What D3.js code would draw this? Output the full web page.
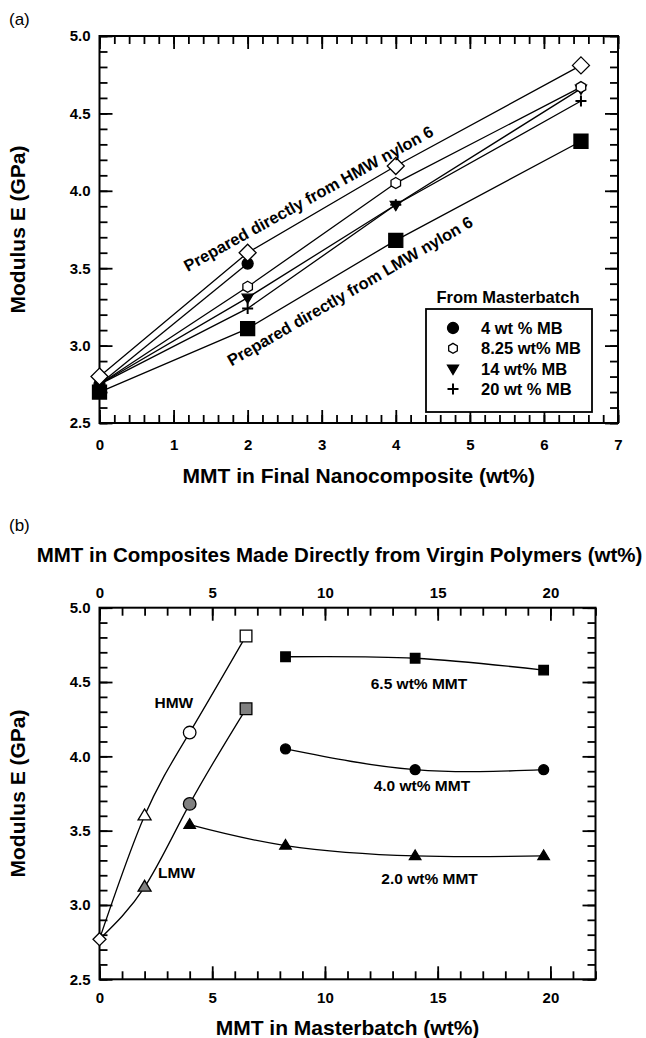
<!DOCTYPE html>
<html>
<head>
<meta charset="utf-8">
<script src="https://cdn.jsdelivr.net/npm/d3@7"></script>
<style>
  html, body { margin: 0; padding: 0; background: #fff; }
  svg { display: block; font-family: "Liberation Sans", Arial, Helvetica, sans-serif; }
</style>
</head>
<body>
<svg id="fig" width="646" height="1038"></svg>
<script>
// ---------- Panel (a): modulus vs. MMT in the final nanocomposite ----------
const mmtDirect = [0, 2, 4, 6.5];
const hmwDirect = [2.80, 3.60, 4.16, 4.81];
const lmwDirect = [2.70, 3.11, 3.68, 4.32];
const neatMMT = 0;
const neatModulus = 2.75;
const mb4MMT = [2];
const mb4Mod = [3.53];
const mb825MMT = [2, 4, 6.5];
const mb825Mod = [3.38, 4.05, 4.67];
const mb14MMT = [2, 4, 6.5];
const mb14Mod = [3.31, 3.91, 4.66];
const mb20MMT = [2, 4, 6.5];
const mb20Mod = [3.24, 3.91, 4.58];
const legendLabels = ["4 wt % MB", "8.25 wt% MB", "14 wt% MB", "20 wt % MB"];
const xTicksA = [0, 1, 2, 3, 4, 5, 6, 7];
const yTicks = [2.5, 3.0, 3.5, 4.0, 4.5, 5.0];

// ---------- Panel (b): modulus vs. MMT in masterbatch ----------
const virginMMT = [0, 2, 4, 6.5];
const hmwVirgin = [2.77, 3.60, 4.16, 4.81];
const lmwVirgin = [2.77, 3.12, 3.68, 4.32];
const mbLoading = [8.25, 14, 19.7];
const final65 = [4.67, 4.66, 4.58];
const final40 = [4.05, 3.91, 3.91];
const mbLoading20 = [4, 8.25, 14, 19.7];
const final20 = [3.54, 3.40, 3.33, 3.33];
const xTicksB = [0, 5, 10, 15, 20];

const FONT = '"Liberation Sans", Arial, Helvetica, sans-serif';
const svg = d3.select("#fig");
svg.append("rect").attr("width", 646).attr("height", 1038).attr("fill", "#fff");

// marker outlines centred on (0,0)
function markerPath(kind, s) {
  const h = s / 2;
  switch (kind) {
    case "diamond": return `M0,${-h}L${h},0L0,${h}L${-h},0Z`;
    case "square": return `M${-h},${-h}H${h}V${h}H${-h}Z`;
    case "circle": return `M${h},0A${h},${h} 0 1,1 ${-h},0A${h},${h} 0 1,1 ${h},0Z`;
    case "hexagon": {
      const p = d3.range(6).map(i => {
        const a = (-90 + 60 * i) * Math.PI / 180;
        return [h * Math.cos(a), h * Math.sin(a)];
      });
      return "M" + p.map(q => q.join(",")).join("L") + "Z";
    }
    case "triDown": return `M${-h},${-h * 0.62}L${h},${-h * 0.62}L0,${h * 1.05}Z`;
    case "triUp": return `M${-h},${h * 0.62}L${h},${h * 0.62}L0,${-h * 1.05}Z`;
    case "plus": return `M${-h},0H${h}M0,${-h}V${h}`;
  }
}

function drawMarker(g, kind, cx, cy, size, fill) {
  g.append("path")
    .attr("d", markerPath(kind, size))
    .attr("transform", `translate(${cx},${cy})`)
    .attr("fill", kind === "plus" ? "none" : fill)
    .attr("stroke", "#000")
    .attr("stroke-width", kind === "plus" ? 2 : 1.3);
}

// box frame with inward major/minor ticks on all four sides
function drawAxes(x, y, o) {
  const [xl, xr] = x.range();
  const [yb, yt] = y.range();
  const g = svg.append("g");
  const side = (make, tr, minor, major, fmt, pad) => {
    g.append("g").attr("transform", tr)
      .call(make().tickValues(minor).tickSize(-8).tickFormat(""));
    g.append("g").attr("transform", tr)
      .call(make().tickValues(major).tickSize(-13).tickPadding(pad).tickFormat(fmt));
  };
  const none = () => "";
  side(() => d3.axisBottom(x), `translate(0,${yb})`, o.xMinor, o.xMajor, d3.format("d"), o.bottomPad);
  side(() => d3.axisTop(x), `translate(0,${yt})`, o.xMinor, o.xMajor, o.topLabels ? d3.format("d") : none, o.topPad);
  side(() => d3.axisLeft(y), `translate(${xl},0)`, o.yMinor, yTicks, d3.format(".1f"), 9);
  side(() => d3.axisRight(y), `translate(${xr},0)`, o.yMinor, yTicks, none, 0);
  g.selectAll(".domain").remove();
  g.selectAll(".tick line").attr("stroke", "#000").attr("stroke-width", 1.8);
  g.selectAll(".tick text")
    .attr("fill", "#000").attr("font-size", 15).attr("font-weight", "bold")
    .attr("font-family", FONT);
  g.append("rect")
    .attr("x", xl).attr("y", yt).attr("width", xr - xl).attr("height", yb - yt)
    .attr("fill", "none").attr("stroke", "#000").attr("stroke-width", 2);
  return g;
}

function label(text, x, y, size, opts = {}) {
  const t = svg.append("text")
    .attr("x", x).attr("y", y)
    .attr("font-size", size)
    .attr("font-weight", opts.weight || "bold")
    .attr("font-family", FONT)
    .attr("fill", "#000")
    .attr("text-anchor", opts.anchor || "middle")
    .text(text);
  if (opts.rotate !== undefined) t.attr("transform", `rotate(${opts.rotate},${x},${y})`);
  if (opts.baseline) t.attr("dominant-baseline", opts.baseline);
  return t;
}

// ======================= Panel (a) =======================
const xA = d3.scaleLinear().domain([0, 7]).range([99.5, 618]);
const yA = d3.scaleLinear().domain([2.5, 5]).range([423, 36]);

drawAxes(xA, yA, {
  xMajor: xTicksA,
  xMinor: d3.range(0, 7.001, 0.2),
  yMinor: d3.range(2.5, 5.001, 0.1),
  bottomPad: 16,
  topPad: 8,
  topLabels: false
});

const lineA = d3.line().x(d => xA(d[0])).y(d => yA(d[1]));
const gA = svg.append("g");
const zip = (xs, ys) => xs.map((v, i) => [v, ys[i]]);

const mbSeries = [
  { mmt: mb4MMT, mod: mb4Mod, kind: "circle", size: 11, fill: "#000" },
  { mmt: mb825MMT, mod: mb825Mod, kind: "hexagon", size: 11, fill: "#fff" },
  { mmt: mb14MMT, mod: mb14Mod, kind: "triDown", size: 11, fill: "#000" },
  { mmt: mb20MMT, mod: mb20Mod, kind: "plus", size: 11, fill: "none" }
];

// lines: all masterbatch series start from neat nylon 6
gA.append("path").attr("d", lineA(zip(mmtDirect, lmwDirect)))
  .attr("fill", "none").attr("stroke", "#000").attr("stroke-width", 1.3);
mbSeries.forEach(s => {
  gA.append("path").attr("d", lineA([[neatMMT, neatModulus], ...zip(s.mmt, s.mod)]))
    .attr("fill", "none").attr("stroke", "#000").attr("stroke-width", 1.3);
});
gA.append("path").attr("d", lineA(zip(mmtDirect, hmwDirect)))
  .attr("fill", "none").attr("stroke", "#000").attr("stroke-width", 1.3);

// markers
drawMarker(gA, "circle", xA(neatMMT), yA(neatModulus), 11, "#000");
[...mbSeries].reverse().forEach(s => {
  s.mmt.forEach((m, i) => drawMarker(gA, s.kind, xA(m), yA(s.mod[i]), s.size, s.fill));
});
mmtDirect.forEach((m, i) => drawMarker(gA, "square", xA(m), yA(lmwDirect[i]), 14, "#000"));
mmtDirect.forEach((m, i) => drawMarker(gA, "diamond", xA(m), yA(hmwDirect[i]), 17, "#fff"));

// rotated annotations along the direct-compounding lines
label("Prepared directly from HMW nylon 6", xA(2.86), yA(3.918), 16.4, { rotate: -29 });
label("Prepared directly from LMW nylon 6", xA(3.42), yA(3.32), 16.4, { rotate: -30.2 });

// legend
label("From Masterbatch", 508, 303, 16.5);
svg.append("rect").attr("x", 426).attr("y", 309).attr("width", 166).attr("height", 103)
  .attr("fill", "#fff").attr("stroke", "#000").attr("stroke-width", 1.8);
const legY = d3.scalePoint().domain(legendLabels).range([328, 389]);
legendLabels.forEach((lab, i) => {
  const s = mbSeries[i];
  drawMarker(svg, s.kind, 453, legY(lab), s.kind === "hexagon" ? 10 : 11, s.fill);
  label(lab, 481, legY(lab), 16.5, { anchor: "start", baseline: "central" });
});

// axis titles
label("Modulus E (GPa)", 17, (yA(2.5) + yA(5)) / 2, 21, { rotate: -90, baseline: "central" });
label("MMT in Final Nanocomposite (wt%)", (xA(0) + xA(7)) / 2, 483, 21);
label("(a)", 9, 25, 17, { anchor: "start", weight: "normal" });

// ======================= Panel (b) =======================
const xB = d3.scaleLinear().domain([0, 22]).range([99.5, 595.5]);
const yB = d3.scaleLinear().domain([2.5, 5]).range([979.3, 607.7]);

drawAxes(xB, yB, {
  xMajor: xTicksB,
  xMinor: d3.range(0, 22.001, 1),
  yMinor: d3.range(2.5, 5.001, 0.1),
  bottomPad: 13,
  topPad: 10,
  topLabels: true
});

const lineB = d3.line().x(d => xB(d[0])).y(d => yB(d[1])).curve(d3.curveNatural);
const gB = svg.append("g");
const curves = [
  zip(virginMMT, hmwVirgin),
  zip(virginMMT, lmwVirgin),
  zip(mbLoading, final65),
  zip(mbLoading, final40),
  zip(mbLoading20, final20)
];
curves.forEach(c => gB.append("path").attr("d", lineB(c))
  .attr("fill", "none").attr("stroke", "#000").attr("stroke-width", 1.3));

const virginShapes = ["diamond", "triUp", "circle", "square"];
const virginSizes = [13, 13, 12.6, 11.7];
virginMMT.forEach((m, i) => {
  if (i > 0) drawMarker(gB, virginShapes[i], xB(m), yB(lmwVirgin[i]), virginSizes[i], "#808080");
});
virginMMT.forEach((m, i) => drawMarker(gB, virginShapes[i], xB(m), yB(hmwVirgin[i]), virginSizes[i], "#fff"));
mbLoading.forEach((m, i) => drawMarker(gB, "square", xB(m), yB(final65[i]), 9.5, "#000"));
mbLoading.forEach((m, i) => drawMarker(gB, "circle", xB(m), yB(final40[i]), 10, "#000"));
mbLoading20.forEach((m, i) => drawMarker(gB, "triUp", xB(m), yB(final20[i]), 11.5, "#000"));

label("HMW", xB(3.30), yB(4.326), 15.5);
label("LMW", xB(3.42), yB(3.18), 15.5);
label("6.5 wt% MMT", xB(14.17), yB(4.45), 15.5);
label("4.0 wt% MMT", xB(14.3), yB(3.767), 15.5);
label("2.0 wt% MMT", xB(14.64), yB(3.141), 15.5);

label("MMT in Composites Made Directly from Virgin Polymers (wt%)", 339.5, 562, 20.5);
label("Modulus E (GPa)", 17, (yB(2.5) + yB(5)) / 2, 21, { rotate: -90, baseline: "central" });
label("MMT in Masterbatch (wt%)", (xB(0) + xB(22)) / 2, 1035, 21);
label("(b)", 9, 531, 17, { anchor: "start", weight: "normal" });
</script>
</body>
</html>
